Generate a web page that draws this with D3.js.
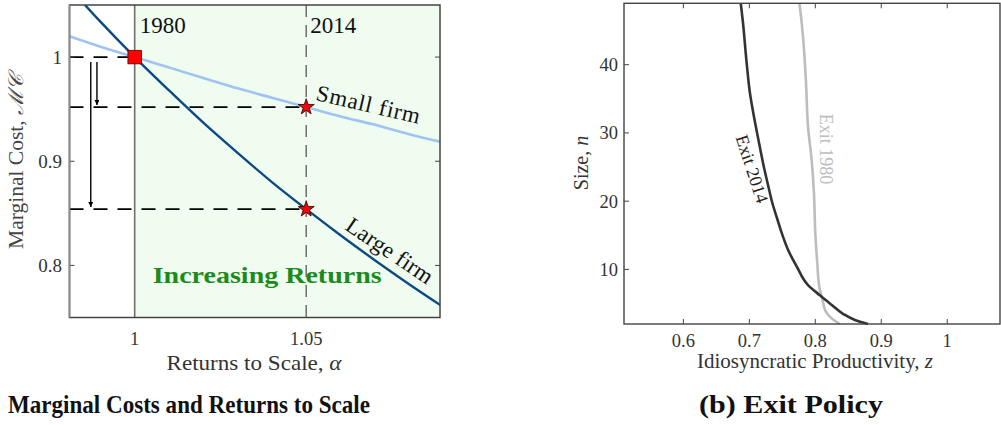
<!DOCTYPE html>
<html>
<head>
<meta charset="utf-8">
<script src="https://cdn.jsdelivr.net/npm/d3@7"></script>
<style>
  html, body { margin: 0; padding: 0; background: #fff; }
  svg { display: block; }
  text { font-family: "Liberation Serif", "Times New Roman", serif; }
</style>
</head>
<body>
<svg id="fig" width="1001" height="425"></svg>
<script>
// ---- Panel (a): marginal cost against returns to scale ----
const alphaGrid = [0.98, 0.99, 1.00, 1.01, 1.02, 1.03, 1.04, 1.05, 1.06, 1.07, 1.08, 1.09];
const mcSmall   = [1.021, 1.010, 1.000, 0.990, 0.980, 0.970, 0.961, 0.952, 0.943, 0.935, 0.926, 0.918];
const mcLarge   = [1.070, 1.034, 1.000, 0.968, 0.937, 0.908, 0.880, 0.854, 0.829, 0.805, 0.782, 0.760];
const alphaTicks = [1, 1.05];
const alphaTickLabels = ["1", "1.05"];
const mcTicks = [0.8, 0.9, 1];
const mcTickLabels = ["0.8", "0.9", "1"];
const alpha1980 = 1.00;
const alpha2014 = 1.05;

// ---- Panel (b): exit thresholds ----
const exit2014N = [2.0, 2.6, 3.5, 4.8, 6.2, 7.7, 10.4, 12.8, 14.8, 17.5, 19.7, 22.1, 25.5, 28.9, 32.4, 35.8, 40.2, 46.5, 49];
const exit2014Z = [0.880, 0.860, 0.842, 0.825, 0.807, 0.789, 0.772, 0.759, 0.751, 0.742, 0.735, 0.729, 0.721, 0.714, 0.707, 0.701, 0.696, 0.690, 0.687];
const exit1980N = [2.0, 2.8, 3.8, 5.5, 7.5, 10.9, 15.3, 21.1, 26.0, 30.9, 37.2, 42.1, 46.5, 49];
const exit1980Z = [0.837, 0.825, 0.816, 0.811, 0.806, 0.803, 0.800, 0.798, 0.7945, 0.789, 0.786, 0.783, 0.779, 0.776];
const zTicks = [0.6, 0.7, 0.8, 0.9, 1];
const zTickLabels = ["0.6", "0.7", "0.8", "0.9", "1"];
const nTicks = [10, 20, 30, 40];
const nTickLabels = ["10", "20", "30", "40"];

const svg = d3.select("#fig");
const defs = svg.append("defs");

// ================= Panel (a) =================
const A = { left: 69.5, right: 440, top: 5, bottom: 317.5 };
const xA = d3.scaleLinear().domain([0.981, 1.089]).range([A.left, A.right]);
const yA = d3.scaleLinear().domain([0.75, 1.05]).range([A.bottom, A.top]);

defs.append("clipPath").attr("id", "clipA")
  .append("rect").attr("x", A.left).attr("y", A.top)
  .attr("width", A.right - A.left).attr("height", A.bottom - A.top);

defs.append("marker").attr("id", "arrowHead")
  .attr("viewBox", "0 0 10 10").attr("refX", 10).attr("refY", 5)
  .attr("markerWidth", 5).attr("markerHeight", 5)
  .attr("markerUnits", "userSpaceOnUse").attr("orient", "auto")
  .append("path").attr("d", "M0,0 L10,5 L0,10 Z").attr("fill", "#000");

const gA = svg.append("g");

// increasing-returns region
gA.append("rect")
  .attr("x", xA(alpha1980)).attr("y", A.top)
  .attr("width", A.right - xA(alpha1980)).attr("height", A.bottom - A.top)
  .attr("fill", "#effcef");

const idx2014 = alphaGrid.indexOf(alpha2014);
const idx1980 = alphaGrid.indexOf(alpha1980);
const mcS2014 = mcSmall[idx2014], mcL2014 = mcLarge[idx2014], mc1980 = mcSmall[idx1980];

// horizontal guide lines
const guides = [
  { y: mc1980, x2: alpha1980 },
  { y: mcS2014, x2: alpha2014 },
  { y: mcL2014, x2: alpha2014 }
];
gA.selectAll("line.guide").data(guides).join("line")
  .attr("class", "guide")
  .attr("x1", A.left).attr("x2", d => xA(d.x2))
  .attr("y1", d => yA(d.y)).attr("y2", d => yA(d.y))
  .attr("stroke", "#000").attr("stroke-width", 1.7)
  .attr("stroke-dasharray", "14,10");

// year verticals
gA.append("line")
  .attr("x1", xA(alpha1980)).attr("x2", xA(alpha1980))
  .attr("y1", A.top).attr("y2", A.bottom)
  .attr("stroke", "#6e6e6e").attr("stroke-width", 1.6);
gA.append("line")
  .attr("x1", xA(alpha2014)).attr("x2", xA(alpha2014))
  .attr("y1", A.top).attr("y2", A.bottom)
  .attr("stroke", "#6e6e6e").attr("stroke-width", 1.5)
  .attr("stroke-dasharray", "12,8");

// arrows showing the fall in marginal cost
const arrows = [
  { x: 0.9890, y1: 0.9952, y2: mcS2014 + 0.002 },
  { x: 0.9872, y1: 0.9952, y2: mcL2014 + 0.002 }
];
gA.selectAll("line.arrow").data(arrows).join("line")
  .attr("class", "arrow")
  .attr("x1", d => xA(d.x)).attr("x2", d => xA(d.x))
  .attr("y1", d => yA(d.y1)).attr("y2", d => yA(d.y2))
  .attr("stroke", "#000").attr("stroke-width", 1.4)
  .attr("marker-end", "url(#arrowHead)");

// cost curves
const mcLine = vals => d3.line()
  .x((d, i) => xA(alphaGrid[i]))
  .y(d => yA(d))
  .curve(d3.curveMonotoneX)(vals);

const curves = gA.append("g").attr("clip-path", "url(#clipA)");
curves.append("path").attr("d", mcLine(mcSmall))
  .attr("fill", "none").attr("stroke", "#9fc4f3").attr("stroke-width", 2.6);
curves.append("path").attr("d", mcLine(mcLarge))
  .attr("fill", "none").attr("stroke", "#0b4a82").attr("stroke-width", 2.4);

// markers
const sq = 13.5;
gA.append("rect")
  .attr("x", xA(alpha1980) - sq / 2).attr("y", yA(mc1980) - sq / 2)
  .attr("width", sq).attr("height", sq)
  .attr("fill", "#ff0000").attr("stroke", "#5a0000").attr("stroke-width", 0.8);
gA.selectAll("path.star").data([mcS2014, mcL2014]).join("path")
  .attr("class", "star")
  .attr("transform", d => `translate(${xA(alpha2014)},${yA(d)})`)
  .attr("d", d3.symbol(d3.symbolStar).size(80)())
  .attr("fill", "#ff0000").attr("stroke", "#1a0000").attr("stroke-width", 0.8);

// year labels
gA.append("text").attr("x", xA(alpha1980) + 5).attr("y", 33)
  .attr("font-size", 23).attr("fill", "#111").text("1980");
gA.append("text").attr("x", xA(alpha2014) + 4).attr("y", 33)
  .attr("font-size", 23).attr("fill", "#111").text("2014");

// curve labels
gA.append("text")
  .attr("transform", `translate(315,100) rotate(13)`)
  .attr("font-size", 23).attr("fill", "#111")
  .attr("textLength", 106).attr("lengthAdjust", "spacing")
  .text("Small firm");
gA.append("text")
  .attr("transform", `translate(344,229) rotate(34)`)
  .attr("font-size", 23).attr("fill", "#111")
  .attr("textLength", 100).attr("lengthAdjust", "spacing")
  .text("Large firm");

gA.append("text")
  .attr("x", 152.7).attr("y", 283)
  .attr("font-size", 23).attr("font-weight", "bold").attr("fill", "#1b8c1b")
  .attr("textLength", 229).attr("lengthAdjust", "spacingAndGlyphs")
  .text("Increasing Returns");

// ticks (inward on both sides)
const tickLen = 5;
gA.selectAll("line.ytl").data(mcTicks).join("line")
  .attr("x1", A.left).attr("x2", A.left + tickLen)
  .attr("y1", d => yA(d)).attr("y2", d => yA(d))
  .attr("stroke", "#444").attr("stroke-width", 1);
gA.selectAll("line.ytr").data(mcTicks).join("line")
  .attr("x1", A.right).attr("x2", A.right - tickLen)
  .attr("y1", d => yA(d)).attr("y2", d => yA(d))
  .attr("stroke", "#444").attr("stroke-width", 1);

// frame
gA.append("rect")
  .attr("x", A.left).attr("y", A.top)
  .attr("width", A.right - A.left).attr("height", A.bottom - A.top)
  .attr("fill", "none").attr("stroke", "#444").attr("stroke-width", 1.5);
gA.append("line")
  .attr("x1", A.left).attr("x2", A.left).attr("y1", A.top).attr("y2", A.bottom)
  .attr("stroke", "#8a8a8a").attr("stroke-width", 1.8);

// tick labels
gA.selectAll("text.yl").data(mcTicks).join("text")
  .attr("x", 62).attr("y", d => yA(d)).attr("dy", "0.35em")
  .attr("text-anchor", "end").attr("font-size", 19).attr("fill", "#333")
  .text((d, i) => mcTickLabels[i]);
gA.selectAll("text.xl").data(alphaTicks).join("text")
  .attr("x", d => xA(d)).attr("y", 345)
  .attr("text-anchor", "middle").attr("font-size", 18.5).attr("fill", "#333")
  .text((d, i) => alphaTickLabels[i]);

// axis titles
gA.append("text")
  .attr("x", 254).attr("y", 370).attr("text-anchor", "middle")
  .attr("font-size", 21).attr("fill", "#333")
  .attr("textLength", 175).attr("lengthAdjust", "spacingAndGlyphs")
  .html("Returns to Scale, <tspan font-style='italic'>α</tspan>");
gA.append("text")
  .attr("transform", "translate(23,162) rotate(-90)").attr("text-anchor", "middle")
  .attr("font-size", 21).attr("fill", "#444")
  .attr("textLength", 174).attr("lengthAdjust", "spacingAndGlyphs")
  .html("Marginal Cost, <tspan font-style='italic'>ℳ𝒞</tspan>");

// panel title
svg.append("text")
  .attr("x", 8).attr("y", 413)
  .attr("font-size", 26).attr("font-weight", "bold").attr("fill", "#111")
  .attr("textLength", 362).attr("lengthAdjust", "spacingAndGlyphs")
  .text("Marginal Costs and Returns to Scale");

// ================= Panel (b) =================
const B = { left: 624, right: 1000, top: 3.3, bottom: 324 };
const xB = d3.scaleLinear().domain([0.51, 1.08]).range([B.left, B.right]);
const yB = d3.scaleLinear().domain([2, 49]).range([B.bottom, B.top]);

const gB = svg.append("g");

const exitLine = (zs, ns) => d3.line()
  .x((d, i) => xB(zs[i]))
  .y(d => yB(d))
  .curve(d3.curveMonotoneY)(ns);

gB.append("path").attr("d", exitLine(exit1980Z, exit1980N))
  .attr("fill", "none").attr("stroke", "#bdbdbd").attr("stroke-width", 2.6);
gB.append("path").attr("d", exitLine(exit2014Z, exit2014N))
  .attr("fill", "none").attr("stroke", "#333").attr("stroke-width", 2.6);

gB.append("text")
  .attr("transform", "translate(752,169) rotate(72)")
  .attr("text-anchor", "middle").attr("dominant-baseline", "central")
  .attr("font-size", 18).attr("fill", "#222")
  .text("Exit 2014");
gB.append("text")
  .attr("transform", "translate(825.5,149) rotate(90)")
  .attr("text-anchor", "middle").attr("dominant-baseline", "central")
  .attr("font-size", 18).attr("fill", "#bdbdbd")
  .text("Exit 1980");

// ticks
gB.selectAll("line.xb").data(zTicks).join("line")
  .attr("x1", d => xB(d)).attr("x2", d => xB(d))
  .attr("y1", B.bottom).attr("y2", B.bottom - tickLen)
  .attr("stroke", "#444");
gB.selectAll("line.xt").data(zTicks).join("line")
  .attr("x1", d => xB(d)).attr("x2", d => xB(d))
  .attr("y1", B.top).attr("y2", B.top + tickLen)
  .attr("stroke", "#444");
gB.selectAll("line.yb").data(nTicks).join("line")
  .attr("x1", B.left).attr("x2", B.left + tickLen)
  .attr("y1", d => yB(d)).attr("y2", d => yB(d))
  .attr("stroke", "#444");

gB.append("rect")
  .attr("x", B.left).attr("y", B.top)
  .attr("width", B.right - B.left).attr("height", B.bottom - B.top)
  .attr("fill", "none").attr("stroke", "#444").attr("stroke-width", 1.4);

gB.selectAll("text.zl").data(zTicks).join("text")
  .attr("x", d => xB(d)).attr("y", 346.5)
  .attr("text-anchor", "middle").attr("font-size", 18.5).attr("fill", "#333")
  .text((d, i) => zTickLabels[i]);
gB.selectAll("text.nl").data(nTicks).join("text")
  .attr("x", 618).attr("y", d => yB(d)).attr("dy", "0.35em")
  .attr("text-anchor", "end").attr("font-size", 18.5).attr("fill", "#333")
  .text((d, i) => nTickLabels[i]);

gB.append("text")
  .attr("x", 815).attr("y", 368).attr("text-anchor", "middle")
  .attr("font-size", 21).attr("fill", "#333")
  .attr("textLength", 236).attr("lengthAdjust", "spacingAndGlyphs")
  .html("Idiosyncratic Productivity, <tspan font-style='italic'>z</tspan>");
gB.append("text")
  .attr("transform", "translate(588,163) rotate(-90)").attr("text-anchor", "middle")
  .attr("font-size", 20).attr("fill", "#333")
  .html("Size, <tspan font-style='italic'>n</tspan>");

svg.append("text")
  .attr("x", 699).attr("y", 413)
  .attr("font-size", 26).attr("font-weight", "bold").attr("fill", "#111")
  .attr("textLength", 184).attr("lengthAdjust", "spacingAndGlyphs")
  .text("(b) Exit Policy");
</script>
</body>
</html>
